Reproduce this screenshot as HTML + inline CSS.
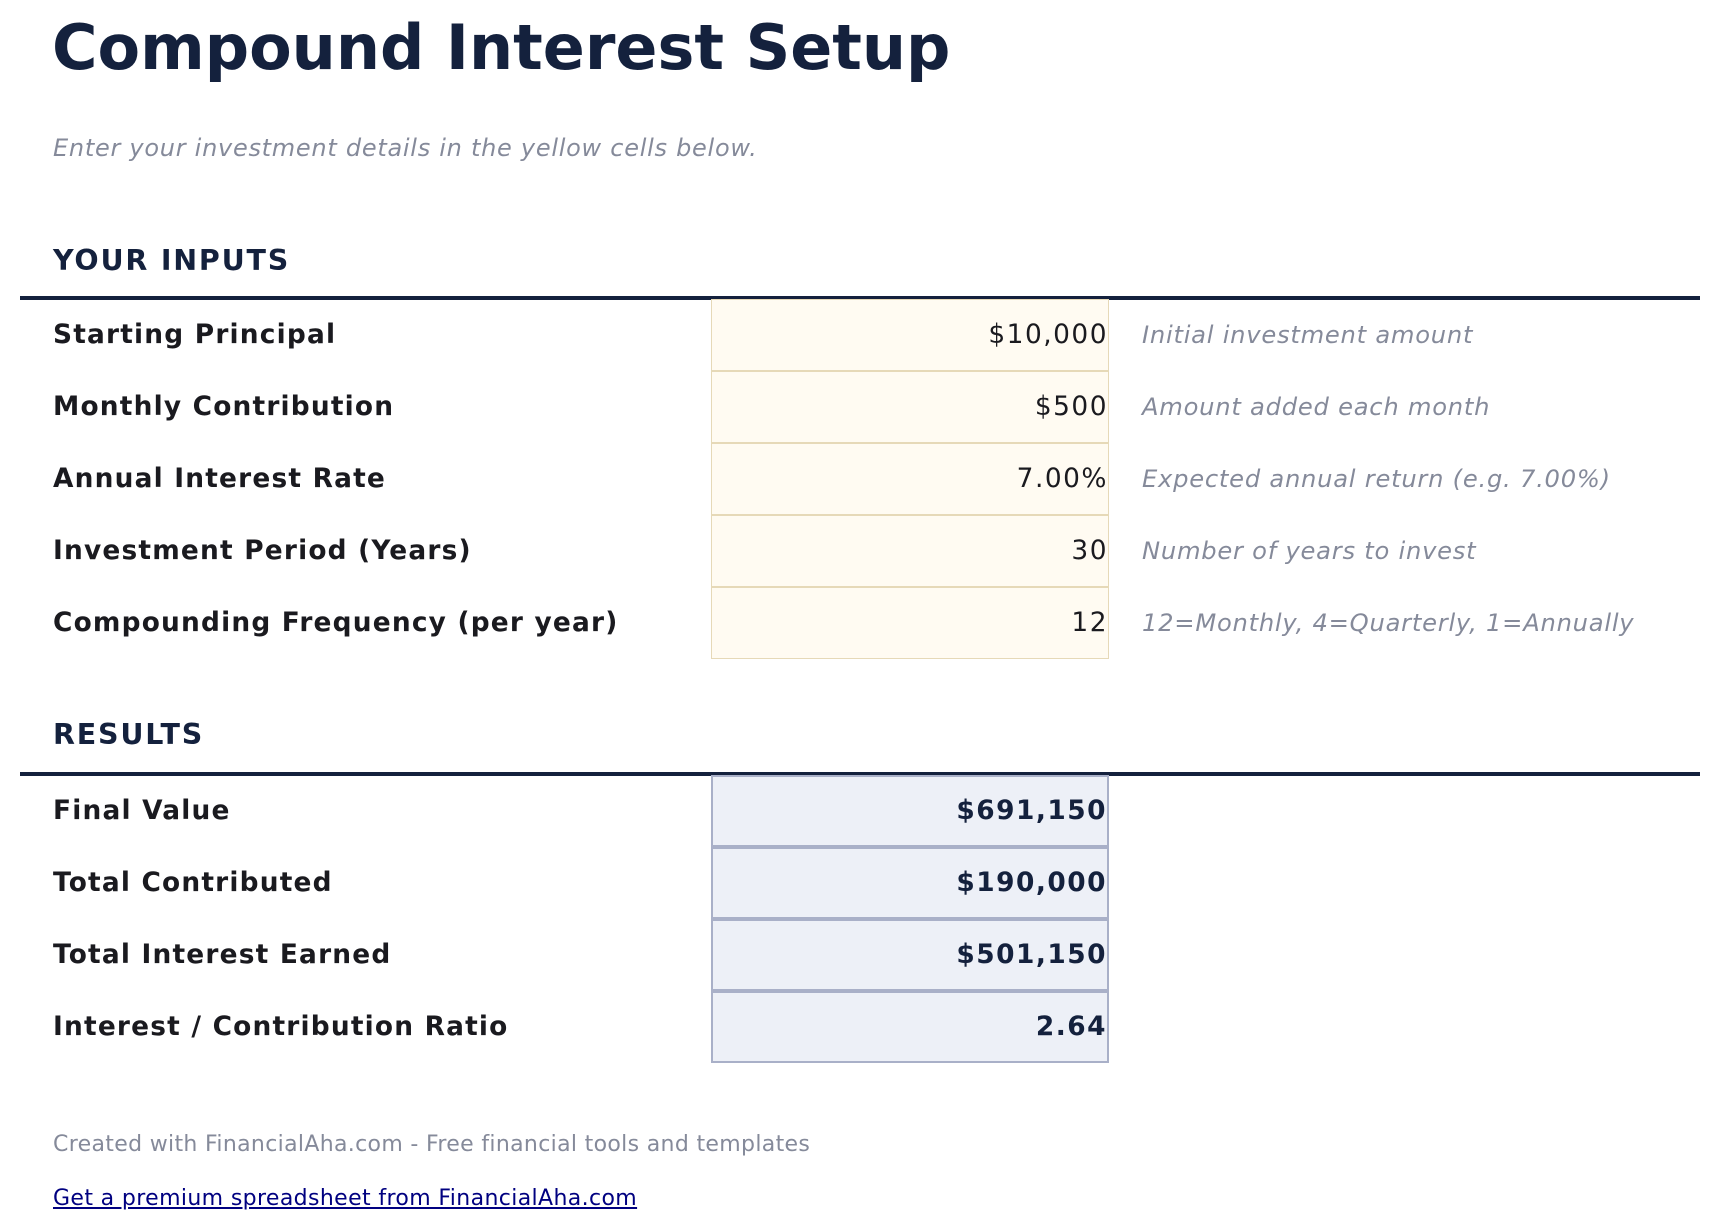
<!DOCTYPE html>
<html><head><meta charset="utf-8"><style>
body{margin:0;width:1720px;height:1232px;background:#fff;font-family:"DejaVu Sans","Liberation Sans",sans-serif;position:relative;overflow:hidden}
.a{position:absolute;white-space:nowrap}
h1{position:absolute;left:52px;top:11px;margin:0;font-size:62px;font-weight:bold;color:#14213d}
.sub{left:53px;top:134px;font-size:24px;font-style:italic;color:#858a9a;letter-spacing:0.73px}
.sec{left:53px;font-size:28.5px;font-weight:bold;color:#14213d;letter-spacing:1.8px}
.rule{position:absolute;left:20px;width:1680px;height:4px;background:#14213d}
.lab{left:53px;font-size:26.4px;font-weight:bold;color:#1a1a1f;line-height:72px;letter-spacing:1.2px}
.cell{position:absolute;left:711px;width:396px;height:70px;line-height:70px;text-align:right;font-size:26.4px;letter-spacing:1.5px}
.y{background:#fffbf2;border:1px solid #e6d9b8;color:#1a1a1f}
.r{background:#edf0f7;border:2px solid #a9b0c8;font-weight:bold;color:#14213d;height:68px;line-height:68px;width:394px}
.note{left:1142px;font-size:24.2px;font-style:italic;color:#858a9a;line-height:72px;letter-spacing:0.76px}
</style></head><body>
<h1>Compound Interest Setup</h1>
<div class="a sub">Enter your investment details in the yellow cells below.</div>
<div class="a sec" style="top:244px">YOUR INPUTS</div>
<div class="rule" style="top:296px"></div>
<div class="a lab" style="top:299px">Starting Principal</div>
<div class="a lab" style="top:371px">Monthly Contribution</div>
<div class="a lab" style="top:443px">Annual Interest Rate</div>
<div class="a lab" style="top:515px">Investment Period (Years)</div>
<div class="a lab" style="top:587px">Compounding Frequency (per year)</div>
<div class="cell y" style="top:299px">$10,000</div>
<div class="cell y" style="top:371px">$500</div>
<div class="cell y" style="top:443px">7.00%</div>
<div class="cell y" style="top:515px">30</div>
<div class="cell y" style="top:587px">12</div>
<div class="a note" style="top:299px">Initial investment amount</div>
<div class="a note" style="top:371px">Amount added each month</div>
<div class="a note" style="top:443px">Expected annual return (e.g. 7.00%)</div>
<div class="a note" style="top:515px">Number of years to invest</div>
<div class="a note" style="top:587px">12=Monthly, 4=Quarterly, 1=Annually</div>
<div class="a sec" style="top:718px">RESULTS</div>
<div class="rule" style="top:772px"></div>
<div class="a lab" style="top:775px">Final Value</div>
<div class="a lab" style="top:847px">Total Contributed</div>
<div class="a lab" style="top:919px">Total Interest Earned</div>
<div class="a lab" style="top:991px">Interest / Contribution Ratio</div>
<div class="cell r" style="top:775px">$691,150</div>
<div class="cell r" style="top:847px">$190,000</div>
<div class="cell r" style="top:919px">$501,150</div>
<div class="cell r" style="top:991px">2.64</div>
<div class="a" style="left:53px;top:1132px;font-size:22px;color:#858a9a;letter-spacing:0.33px">Created with FinancialAha.com - Free financial tools and templates</div>
<div class="a" style="left:53px;top:1186px;font-size:22px;color:#000080;text-decoration:underline;letter-spacing:0.37px">Get a premium spreadsheet from FinancialAha.com</div>
</body></html>
